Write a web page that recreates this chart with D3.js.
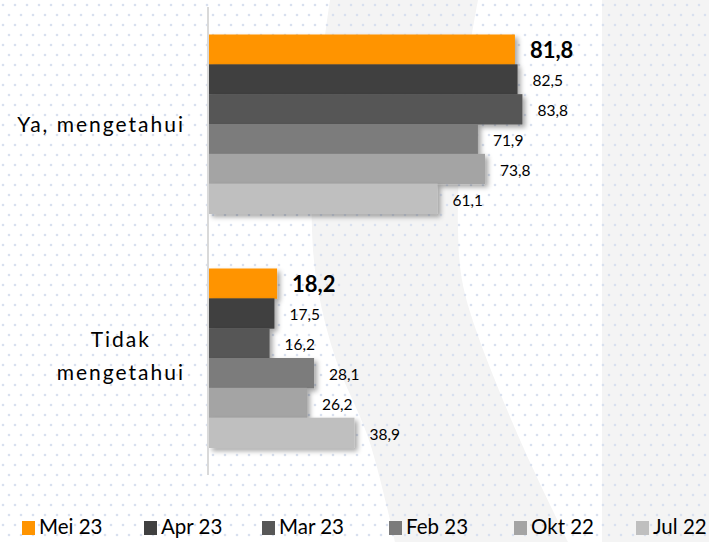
<!DOCTYPE html>
<html><head><meta charset="utf-8">
<script src="https://cdn.jsdelivr.net/npm/d3@7"></script>
<style>html,body{margin:0;padding:0;background:#fff;}svg{display:block;font-family:Lato,"Noto Sans",sans-serif;}</style>
</head><body>
<svg id="c" width="709" height="542"></svg>
<script>
const categories = ["Ya, mengetahui", "Tidak\nmengetahui"];
const seriesNames = ["Mei 23", "Apr 23", "Mar 23", "Feb 23", "Okt 22", "Jul 22"];
const seriesColors = ["#FF9400", "#404040", "#575757", "#7b7b7b", "#a4a4a4", "#bfbfbf"];
const valuesMei23 = [81.8, 18.2];
const valuesApr23 = [82.5, 17.5];
const valuesMar23 = [83.8, 16.2];
const valuesFeb23 = [71.9, 28.1];
const valuesOkt22 = [73.8, 26.2];
const valuesJul22 = [61.1, 38.9];
const seriesValues = [valuesMei23, valuesApr23, valuesMar23, valuesFeb23, valuesOkt22, valuesJul22];
const legendX = [22, 144, 262, 389, 514, 636];

const svg = d3.select("#c");
const defs = svg.append("defs");
const pat = defs.append("pattern").attr("id","dots").attr("width",12).attr("height",20).attr("patternUnits","userSpaceOnUse");
pat.append("circle").attr("cx",3).attr("cy",5).attr("r",1.3).attr("fill","#d8e0ef");
pat.append("circle").attr("cx",9).attr("cy",15).attr("r",1.3).attr("fill","#d8e0ef");
const f = defs.append("filter").attr("id","sh").attr("x","-10%").attr("y","-30%").attr("width","130%").attr("height","180%");
f.append("feDropShadow").attr("dx",3).attr("dy",3).attr("stdDeviation",2.5).attr("flood-color","#000").attr("flood-opacity",0.35);

// background watermark
svg.append("rect").attr("width",709).attr("height",542).attr("fill","#fff");
const leftEdge = [[330,0],[322,60],[314,150],[312,230],[318,290],[336,360],[369,440],[395,542]];
const rightEdge = [[478,0],[468,60],[460,150],[458,230],[462,280],[476,330],[520,440],[568,542]];
const line = d3.line().curve(d3.curveCatmullRom);
const bandPath = line(leftEdge) + "L" + line(rightEdge.slice().reverse()).slice(1) + "Z";
svg.append("path").attr("d",bandPath).attr("fill","#f4f4f4");
svg.append("rect").attr("x",602).attr("y",0).attr("width",107).attr("height",542).attr("fill","#f4f4f4");
svg.append("rect").attr("width",709).attr("height",542).attr("fill","url(#dots)");

const x = d3.scaleLinear().domain([0,100]).range([209,583]);
const y = d3.scaleBand().domain(categories).range([7,475]).paddingInner(0.235).paddingOuter(0.1175);
const ys = d3.scaleBand().domain(seriesNames).range([0,y.bandwidth()]);

const g = svg.append("g");
seriesNames.forEach((s,si)=>{
  const gs = g.append("g").attr("filter","url(#sh)");
  gs.selectAll("rect").data(categories).join("rect")
    .attr("x",x(0)).attr("y",c=>y(c)+ys(s))
    .attr("width",(c,i)=>x(seriesValues[si][i])-x(0))
    .attr("height",ys.bandwidth()+0.5)
    .attr("fill",seriesColors[si]);
});
seriesNames.forEach((s,si)=>{
  g.selectAll(null).data(categories).join("text")
    .attr("x",(c,i)=>x(seriesValues[si][i])+15)
    .attr("y",c=>y(c)+ys(s)+ys.bandwidth()/2+3)
    .attr("dominant-baseline","middle")
    .attr("font-size", si===0?22:15.5)
    .attr("font-weight", si===0?"bold":"normal")
    .attr("fill","#000")
    .text((c,i)=>seriesValues[si][i].toFixed(1).replace(".",","));
});

// axis
svg.append("line").attr("x1",208).attr("x2",208).attr("y1",7).attr("y2",475).attr("stroke","#d9d9d9").attr("stroke-width",2);

// category labels
categories.forEach(c=>{
  const lines = c.split("\n");
  const t = svg.append("text").attr("font-size",21).attr("fill","#000").attr("letter-spacing",2);
  const lh = 33;
  const cy = y(c)+y.bandwidth()/2 + (lines.length===1?3:0);
  lines.forEach((l,i)=>{
    t.append("tspan").attr("y",cy+(i-(lines.length-1)/2)*lh).attr("dominant-baseline","middle").text(l);
  });
  const tsp = t.selectAll("tspan").nodes();
  const maxW = d3.max(tsp,n=>n.getComputedTextLength());
  const cx = 185 - maxW/2;
  t.selectAll("tspan").attr("x",cx).attr("text-anchor","middle");
});

// legend
const lg = svg.append("g");
seriesNames.forEach((s,i)=>{
  lg.append("rect").attr("x",legendX[i]).attr("y",521).attr("width",13).attr("height",14).attr("fill",seriesColors[i]);
  lg.append("text").attr("x",legendX[i]+17).attr("y",529).attr("dominant-baseline","middle").attr("font-size",20.5).attr("fill","#000").text(s);
});
</script>
</body></html>
